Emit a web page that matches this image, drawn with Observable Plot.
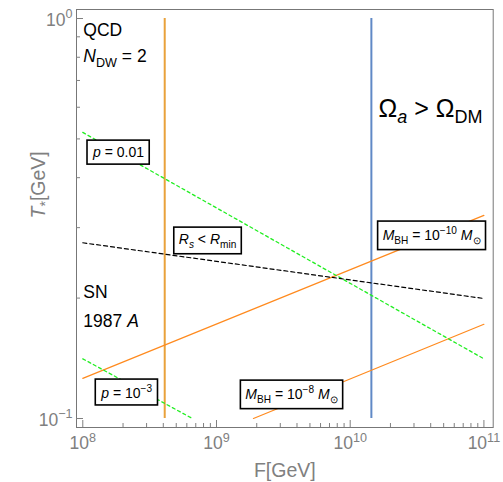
<!DOCTYPE html>
<html><head><meta charset="utf-8">
<script src="https://cdn.jsdelivr.net/npm/d3@7"></script>
<script src="https://cdn.jsdelivr.net/npm/@observablehq/plot@0.6"></script>
<style>
html,body{margin:0;padding:0;background:#fff;}
svg{display:block;}
text{white-space:pre;}
</style>
</head><body><div id="chart"></div>
<script>
// ---- data ----
const F_ends = [1e8, 1e11];
const T_p1e2 = [0.519, 0.141];          // p = 0.01 (green dashed)
const T_RsRmin = [0.275, 0.1995];       // R_s < R_min (black dashed)
const T_Mbh10 = [0.126, 0.322];         // M_BH = 1e-10 Msun (orange)
const F_p1e3 = [1e8, 6.6e8];
const T_p1e3 = [0.141, 0.1];            // p = 1e-3 (green dashed)
const F_Mbh8 = [1.89e9, 1e11];
const T_Mbh8 = [0.1, 0.172];            // M_BH = 1e-8 Msun (orange)
const F_QCD = [4.1e8];                  // orange vertical
const F_DM = [1.44e10];                 // blue vertical
const T_span = [0.1, 1];

const xMajor = [1e8, 1e9, 1e10, 1e11];
const xMajorExp = ["8", "9", "10", "11"];
const yMajor = [0.1, 1];
const yMajorExp = ["\u22121", "0"];
const minorMult = [2, 3, 4, 5, 6, 7, 8, 9];
const xDecades = [1e8, 1e9, 1e10];
const xMinor = xDecades.flatMap(d => minorMult.map(m => m * d));
const yMinor = minorMult.map(m => m * 0.1);

const plainLabels = ["QCD", "{i|N}{sub|DW} = 2", "SN", "1987 {i|A}"];
const plainF = [1.01e8, 1.01e8, 1.01e8, 1.01e8];
const plainT = [0.933, 0.803, 0.2065, 0.1748];

const boxLabels = ["{i|p} = 0.01", "{i|R}{isub|s} < {i|R}{sub|min}",
  "{i|M}{sub|BH} = 10{sup|\u221210} {i|M}{sub|\u2299}", "{i|p} = 10{sup|\u22123}",
  "{i|M}{sub|BH} = 10{sup|\u22128} {i|M}{sub|\u2299}"];
const boxF = [1.85e8, 8.57e8, 4.06e10, 2.13e8, 3.64e9];
const boxT = [0.462, 0.280, 0.2868, 0.1155, 0.1148];

const omegaLabel = ["\u03A9{isub|a} > \u03A9{sub|DM}"];
const omegaF = [1.63e10];
const omegaT = [0.595];

const xTitle = "F[GeV]";
const yTitle = "{i|T}{sub|*}[GeV]";

// ---- build ----
const zip = (F, T) => F.map((f, i) => ({F: f, T: T[i]}));
const W = 503, H = 482, mT = 9, mR = 10.3, mB = 55, mL = 76;
const plotH = H - mT - mB, plotW = W - mL - mR;
const grey = "#808080";

const plot = Plot.plot({
  width: W, height: H,
  marginTop: mT, marginRight: mR, marginBottom: mB, marginLeft: mL,
  style: {fontFamily: "'Liberation Sans', Arial, sans-serif", background: "#fff"},
  x: {type: "log", domain: [10 ** 7.953, 10 ** 11.0695], axis: null},
  y: {type: "log", domain: [10 ** -1.0225, 10 ** 0.0225], axis: null},
  marks: [
    Plot.frame({stroke: "#777", strokeWidth: 1}),
    Plot.ruleX(xMajor, {stroke: grey, insetTop: plotH - 7}),
    Plot.ruleX(xMinor, {stroke: grey, insetTop: plotH - 4}),
    Plot.ruleY(yMajor, {stroke: grey, insetRight: plotW - 7}),
    Plot.ruleY(yMinor, {stroke: grey, insetRight: plotW - 4}),
    Plot.text(xMajor, {x: d => d, frameAnchor: "bottom", dy: 16, lineAnchor: "middle",
      text: (d, i) => `10{sup|${xMajorExp[i]}}`, fill: grey, fontSize: 17.5}),
    Plot.text(yMajor, {y: d => d, frameAnchor: "left", dx: -4, dy: 1.5, textAnchor: "end",
      lineAnchor: "middle", text: (d, i) => `10{sup|${yMajorExp[i]}}`, fill: grey, fontSize: 17.5}),
    Plot.text([xTitle], {frameAnchor: "bottom", dy: 43, lineAnchor: "middle", fill: grey, fontSize: 19.5}),
    Plot.text([yTitle], {frameAnchor: "left", dx: -38, rotate: -90, lineAnchor: "middle", fill: grey, fontSize: 19.5}),

    Plot.ruleX(F_QCD, {y1: T_span[0], y2: T_span[1], stroke: "#E9A23B", strokeWidth: 2}),
    Plot.ruleX(F_DM, {y1: T_span[0], y2: T_span[1], stroke: "#6089C6", strokeWidth: 2}),
    Plot.line(zip(F_ends, T_Mbh10), {x: "F", y: "T", stroke: "#FF8A1E", strokeWidth: 1.2}),
    Plot.line(zip(F_Mbh8, T_Mbh8), {x: "F", y: "T", stroke: "#FF8A1E", strokeWidth: 1.2}),
    Plot.line(zip(F_ends, T_p1e2), {x: "F", y: "T", stroke: "#22EE22", strokeWidth: 1.3, strokeDasharray: "3,3"}),
    Plot.line(zip(F_p1e3, T_p1e3), {x: "F", y: "T", stroke: "#22EE22", strokeWidth: 1.3, strokeDasharray: "3,3"}),
    Plot.line(zip(F_ends, T_RsRmin), {x: "F", y: "T", stroke: "#000", strokeWidth: 1.2, strokeDasharray: "4,3"}),

    Plot.text(plainLabels, {x: (d, i) => plainF[i], y: (d, i) => plainT[i], text: d => d,
      textAnchor: "start", lineAnchor: "middle", fill: "#000", fontSize: 17.5}),
    Plot.text(omegaLabel, {x: (d, i) => omegaF[i], y: (d, i) => omegaT[i], text: d => d,
      textAnchor: "start", lineAnchor: "middle", fill: "#000", fontSize: 25}),
    Plot.text(boxLabels, {x: (d, i) => boxF[i], y: (d, i) => boxT[i], text: d => "\u25A1" + d,
      textAnchor: "middle", lineAnchor: "middle", fill: "#000", fontSize: 14})
  ]
});
document.getElementById("chart").appendChild(plot);

// ---- rich text: sub/superscripts, italics, boxes ----
const NS = "http://www.w3.org/2000/svg";
plot.querySelectorAll("text").forEach(t => {
  let s = t.textContent;
  let boxed = false;
  if (s.startsWith("\u25A1")) { boxed = true; s = s.slice(1); }
  if (!boxed && s.indexOf("{") < 0) return;
  const fs = parseFloat(getComputedStyle(t).fontSize);
  while (t.firstChild) t.removeChild(t.firstChild);
  let cur = 0;
  const add = (str, type) => {
    if (!str) return;
    const ts = document.createElementNS(NS, "tspan");
    let off = 0, size = null, italic = false;
    if (type === "i") italic = true;
    if (type === "sub" || type === "isub") { off = 0.26 * fs; size = 0.72 * fs; }
    if (type === "isub") italic = true;
    if (type === "sup") { off = -0.42 * fs; size = 0.72 * fs; }
    const dy = off - cur;
    if (Math.abs(dy) > 1e-6) ts.setAttribute("dy", dy.toFixed(2));
    cur = off;
    if (size) ts.setAttribute("font-size", size.toFixed(2));
    if (italic) ts.setAttribute("font-style", "italic");
    ts.textContent = str;
    t.appendChild(ts);
  };
  const re = /\{(\w+)\|([^}]*)\}/g;
  let last = 0, m;
  while ((m = re.exec(s))) {
    add(s.slice(last, m.index), "n");
    add(m[2], m[1]);
    last = re.lastIndex;
  }
  add(s.slice(last), "n");
  if (boxed) {
    const bb = t.getBBox();
    const r = document.createElementNS(NS, "rect");
    const px = 5, py = 4;
    r.setAttribute("x", bb.x - px);
    r.setAttribute("y", bb.y - py);
    r.setAttribute("width", bb.width + 2 * px);
    r.setAttribute("height", bb.height + 2 * py);
    r.setAttribute("fill", "#fff");
    r.setAttribute("stroke", "#000");
    r.setAttribute("stroke-width", 1.6);
    const tr = t.getAttribute("transform");
    if (tr) r.setAttribute("transform", tr);
    t.parentNode.insertBefore(r, t);
  }
});
</script></body></html>
